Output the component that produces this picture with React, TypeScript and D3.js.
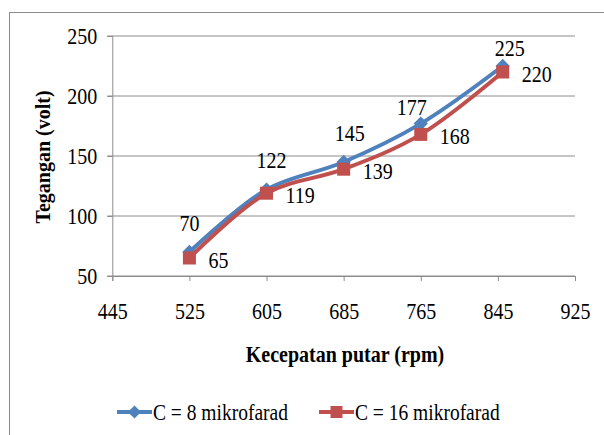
import * as d3 from "d3";
import { useEffect, useRef } from "react";

// chart data
const speeds = [525, 605, 685, 765, 850];
const voltC8 = [70, 122, 145, 177, 225];
const voltC16 = [65, 119, 139, 168, 220];
const xTicks = [445, 525, 605, 685, 765, 845, 925];
const yTicks = [50, 100, 150, 200, 250];
const seriesNames = ["C = 8 mikrofarad", "C = 16 mikrofarad"];

// hand-placed label nudges for the blue series (dx, dy from marker)
const blueLabelDx = [0, 5, 6, -9, 7];
const blueLabelDy = [-29, -29, -29, -16, -18];

const BLUE = "#4F81BD";
const RED = "#C0504D";
const FONT = "Liberation Serif";
const STRETCH = 1.18; // source text is a bit taller than normal

export default function App() {
  const svgRef = useRef<SVGSVGElement | null>(null);

  useEffect(() => {
    const svg = d3.select(svgRef.current);
    svg.selectAll("*").remove();

    const width = 604;
    const height = 435;
    const margin = { top: 36, right: 29, bottom: 159, left: 112.3 };

    // text helper: anchor at (x, y) = vertical centre, slightly stretched
    const label = (
      g: d3.Selection<any, unknown, null, undefined>,
      x: number,
      y: number,
      str: string,
      size: number,
      anchor = "start",
      bold = false
    ) =>
      g
        .append("text")
        .attr("transform", `translate(${x},${y}) scale(1,${STRETCH})`)
        .attr("dy", "0.33em")
        .attr("text-anchor", anchor)
        .style("font-family", FONT)
        .style("font-size", `${size}px`)
        .style("font-weight", bold ? "bold" : "normal")
        .attr("fill", "#000")
        .text(str);

    // outer chart border (clipped on right / bottom like the source)
    svg
      .append("rect")
      .attr("x", 9.5)
      .attr("y", 12.5)
      .attr("width", width + 10)
      .attr("height", height + 10)
      .attr("fill", "white")
      .attr("stroke", "#8c8c8c")
      .attr("stroke-width", 1);

    const x = d3
      .scaleLinear()
      .domain([445, 925])
      .range([margin.left, width - margin.right]);

    const y = d3
      .scaleLinear()
      .domain([50, 250])
      .range([height - margin.bottom, margin.top]);

    // gridlines
    svg
      .append("g")
      .selectAll("line")
      .data(yTicks)
      .join("line")
      .attr("x1", margin.left - 5)
      .attr("x2", x(925))
      .attr("y1", (d) => y(d))
      .attr("y2", (d) => y(d))
      .attr("stroke", "#8c8c8c")
      .attr("stroke-width", 1);

    // Y axis
    const yAxis = svg
      .append("g")
      .attr("transform", `translate(${margin.left},0)`)
      .call(d3.axisLeft(y).tickValues(yTicks).tickSize(5).tickPadding(10));
    yAxis.attr("font-family", null).attr("font-size", null);
    yAxis.select(".domain").attr("stroke", "#8c8c8c");
    yAxis.selectAll(".tick line").attr("stroke", "#8c8c8c");
    yAxis
      .selectAll(".tick text")
      .attr("transform", `scale(1,${STRETCH})`)
      .style("font-family", FONT)
      .style("font-size", "20px")
      .attr("fill", "#000");

    // X axis
    const xAxis = svg
      .append("g")
      .attr("transform", `translate(0,${y(50)})`)
      .call(d3.axisBottom(x).tickValues(xTicks).tickSize(5).tickFormat(d3.format("d")));
    xAxis.attr("font-family", null).attr("font-size", null);
    xAxis.select(".domain").attr("stroke", "#8c8c8c");
    xAxis.selectAll(".tick line").attr("stroke", "#8c8c8c");
    xAxis
      .selectAll(".tick text")
      .attr("transform", `scale(1,${STRETCH})`)
      .attr("y", 35.5 / STRETCH)
      .attr("dy", "0.33em")
      .style("font-family", FONT)
      .style("font-size", "20px")
      .attr("fill", "#000");

    // axis titles
    label(svg, 345, 354, "Kecepatan putar (rpm)", 20, "middle", true);

    svg
      .append("text")
      .attr("text-anchor", "middle")
      .attr("transform", "translate(43,157) rotate(-90)")
      .attr("dy", "0.33em")
      .style("font-family", FONT)
      .style("font-weight", "bold")
      .style("font-size", "20px")
      .text("Tegangan (volt)");

    const line = d3
      .line<number>()
      .x((_, i) => x(speeds[i]))
      .y((d) => y(d))
      .curve(d3.curveCatmullRom);

    // blue series
    svg
      .append("path")
      .datum(voltC8)
      .attr("d", line)
      .attr("fill", "none")
      .attr("stroke", BLUE)
      .attr("stroke-width", 4);

    svg
      .append("g")
      .selectAll("path")
      .data(voltC8)
      .join("path")
      .attr("d", d3.symbol(d3.symbolDiamond2, 130)())
      .attr("transform", (d, i) => `translate(${x(speeds[i])},${y(d)})`)
      .attr("fill", BLUE);

    // red series
    svg
      .append("path")
      .datum(voltC16)
      .attr("d", line)
      .attr("fill", "none")
      .attr("stroke", RED)
      .attr("stroke-width", 4);

    svg
      .append("g")
      .selectAll("rect")
      .data(voltC16)
      .join("rect")
      .attr("x", (_, i) => x(speeds[i]) - 6.5)
      .attr("y", (d) => y(d) - 6.5)
      .attr("width", 13)
      .attr("height", 13)
      .attr("fill", RED);

    // data labels
    const labels = svg.append("g");
    voltC8.forEach((v, i) => {
      label(labels, x(speeds[i]) + blueLabelDx[i], y(v) + blueLabelDy[i], String(v), 20, "middle");
    });
    voltC16.forEach((v, i) => {
      label(labels, x(speeds[i]) + 19, y(v) + 2, String(v), 20, "start");
    });

    // legend
    const legend = svg.append("g").attr("transform", "translate(0,412)");
    const items = [
      { name: seriesNames[0], color: BLUE, x0: 117 },
      { name: seriesNames[1], color: RED, x0: 319 },
    ];
    items.forEach((it, k) => {
      legend
        .append("line")
        .attr("x1", it.x0)
        .attr("x2", it.x0 + 35)
        .attr("y1", 0)
        .attr("y2", 0)
        .attr("stroke", it.color)
        .attr("stroke-width", 4);
      if (k === 0) {
        legend
          .append("path")
          .attr("d", d3.symbol(d3.symbolDiamond2, 110)())
          .attr("transform", `translate(${it.x0 + 17.5},0)`)
          .attr("fill", it.color);
      } else {
        legend
          .append("rect")
          .attr("x", it.x0 + 11.5)
          .attr("y", -6)
          .attr("width", 12)
          .attr("height", 12)
          .attr("fill", it.color);
      }
      label(legend, it.x0 + 36, 0, it.name, 19.5);
    });
  }, []);

  return (
    <svg
      ref={svgRef}
      width={604}
      height={435}
      style={{ position: "absolute", left: 0, top: 0, display: "block", background: "white" }}
    ></svg>
  );
}
